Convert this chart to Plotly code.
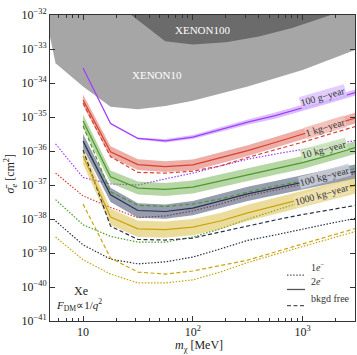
import numpy as np
import plotly.graph_objects as go

# ---------------- data ----------------
mass_mev = [5.62, 10, 17.8, 31.6, 56.2, 100, 178, 316, 562, 1000, 1778, 3162]
mass_2e = mass_mev[1:]

# log10 of cross section [cm^2]
purple_2e = [-33.56, -35.19, -35.63, -35.70, -35.59, -35.37, -35.15, -34.96, -34.74, -34.50, -34.26]
purple_1e = [-35.79, -36.78, -36.97, -37.00, -36.82, -36.65, -36.44, -36.24, -36.09, -35.96, -35.82, -35.68]
red_2e = [-34.50, -36.02, -36.40, -36.46, -36.41, -36.21, -35.99, -35.75, -35.50, -35.26, -35.01]
red_bf = [-34.59, -36.17, -36.63, -36.65, -36.59, -36.44, -36.19, -35.97, -35.74, -35.50, -35.26]
red_1e = [-36.65, -37.32, -37.66, -37.96, -37.91, -37.76, -37.56, -37.32, -37.15, -36.97, -36.81, -36.65]
green_2e = [-35.12, -36.76, -37.09, -37.13, -37.06, -36.88, -36.69, -36.51, -36.34, -36.12, -35.88]
green_bf = [-35.26, -37.20, -37.60, -37.63, -37.56, -37.41, -37.21, -37.03, -36.88, -36.68, -36.50]
green_1e = [-37.43, -38.17, -38.51, -38.68, -38.68, -38.53, -38.29, -38.00, -37.75, -37.49, -37.24, -36.97]
navy_2e = [-35.71, -37.29, -37.75, -37.78, -37.68, -37.47, -37.26, -37.09, -36.91, -36.75, -36.59]
navy_bf = [-35.97, -38.21, -38.60, -38.62, -38.56, -38.38, -38.21, -38.03, -37.87, -37.72, -37.59]
navy_1e = [-38.06, -38.76, -39.18, -39.32, -39.26, -39.12, -38.88, -38.63, -38.47, -38.29, -38.13, -37.97]
gold_2e = [-36.15, -37.94, -38.29, -38.31, -38.24, -38.06, -37.82, -37.62, -37.41, -37.21, -37.00]
gold_bf = [-37.56, -39.15, -39.56, -39.62, -39.53, -39.38, -39.21, -38.97, -38.74, -38.50, -38.26]
gold_1e = [-38.53, -39.20, -39.62, -39.88, -39.88, -39.79, -39.56, -39.28, -39.04, -38.81, -38.57, -38.35]

# band half-widths (decades) around the 2e- curves
purple_band = [0.01, 0.02, 0.03, 0.05, 0.06, 0.07, 0.08, 0.09, 0.09, 0.09, 0.09]
red_band = 0.16
green_band = 0.19
navy_band = 0.21
gold_band = 0.24

# existing limits (lower boundary of excluded regions)
xenon10_mass = [5.0, 5.62, 10, 17.8, 31.6, 56.2, 100, 316, 1000, 3162]
xenon10_log = [-32.64, -33.42, -34.10, -34.70, -34.77, -34.68, -34.52, -34.10, -33.62, -33.00]
xenon100_mass = [27, 56, 100, 200, 400, 800, 1600, 2100]
xenon100_log = [-31.98, -32.77, -32.87, -32.80, -32.63, -32.38, -32.06, -31.92]
sky_log = -31.0

exposures = ["100 g\u2212year", "1 kg\u2212year", "10 kg\u2212year", "100 kg\u2212year", "1000 kg\u2212year"]
legend_names = ["1<i>e</i><sup>\u2212</sup>", "2<i>e</i><sup>\u2212</sup>", "bkgd free"]

# ---------------- figure ----------------
SERIF = "Liberation Serif, Times New Roman, serif"
fig = go.Figure()

def p10(a):
    return list(10.0 ** np.asarray(a, dtype=float))

fig.add_trace(go.Scatter(
    x=xenon10_mass + [xenon10_mass[-1], xenon10_mass[0]],
    y=p10(xenon10_log + [sky_log, sky_log]),
    fill="toself", fillcolor="#a6a6a6", line=dict(width=0),
    mode="lines", showlegend=False, hoverinfo="skip"))
fig.add_trace(go.Scatter(
    x=xenon100_mass + [xenon100_mass[-1], xenon100_mass[0]],
    y=p10(xenon100_log + [sky_log, sky_log]),
    fill="toself", fillcolor="#6b6b6b", line=dict(width=0),
    mode="lines", showlegend=False, hoverinfo="skip"))

DOT = "1.5px,1.6px"
DASH = "4px,2.5px"
LW = 1.2

series = [
    ("#a23cff", "rgba(175,110,255,0.45)", purple_2e, purple_band, None, purple_1e),
    ("#d8402f", "rgba(215,75,60,0.45)", red_2e, red_band, red_bf, red_1e),
    ("#4d9a2a", "rgba(95,165,55,0.45)", green_2e, green_band, green_bf, green_1e),
    ("#27324c", "rgba(45,60,95,0.50)", navy_2e, navy_band, navy_bf, navy_1e),
    ("#c9a40e", "rgba(212,178,35,0.45)", gold_2e, gold_band, gold_bf, gold_1e),
]

for color, bandc, s2, bw, sbf, s1 in series:
    fig.add_trace(go.Scatter(x=mass_mev, y=p10(s1), mode="lines",
                             line=dict(color=color, width=LW, dash=DOT),
                             showlegend=False, hoverinfo="skip"))

for color, bandc, s2, bw, sbf, s1 in series:
    w = np.broadcast_to(np.asarray(bw, dtype=float), (len(s2),))
    up = np.asarray(s2) + w
    lo = np.asarray(s2) - w
    fig.add_trace(go.Scatter(x=mass_2e + mass_2e[::-1],
                             y=p10(list(up) + list(lo[::-1])),
                             fill="toself", fillcolor=bandc, line=dict(width=0),
                             mode="lines", showlegend=False, hoverinfo="skip"))

for color, bandc, s2, bw, sbf, s1 in series:
    if sbf is not None:
        fig.add_trace(go.Scatter(x=mass_2e, y=p10(sbf), mode="lines",
                                 line=dict(color=color, width=LW, dash=DASH),
                                 showlegend=False, hoverinfo="skip"))
    fig.add_trace(go.Scatter(x=mass_2e, y=p10(s2), mode="lines",
                             line=dict(color=color, width=LW),
                             showlegend=False, hoverinfo="skip"))

# line-style key (bottom right)
key_rows = [0.150, 0.103, 0.050]
for name, dash, ky in zip(legend_names, [DOT, "solid", DASH], key_rows):
    fig.add_shape(type="line", xref="paper", yref="paper", x0=0.777, x1=0.836,
                  y0=ky, y1=ky, line=dict(color="#555555", width=1.3, dash=dash))
    fig.add_annotation(xref="paper", yref="paper", x=0.850, y=ky, xanchor="left",
                       text=name, showarrow=False,
                       font=dict(family=SERIF, size=10, color="#333333"))

# exposure labels along the curves
label_pos = [(3.186, -34.41, -16, "rgba(222,200,255,0.9)"),
             (3.205, -35.32, -17, "rgba(242,196,190,0.9)"),
             (3.195, -35.97, -15, "rgba(200,226,185,0.9)"),
             (3.195, -36.74, -15, "rgba(200,204,215,0.9)"),
             (3.177, -37.29, -16, "rgba(238,226,178,0.9)")]
for txt, (lx, ly, ang, bg) in zip(exposures, label_pos):
    fig.add_annotation(x=lx, y=ly, text=txt, showarrow=False, textangle=ang,
                       font=dict(family=SERIF, size=10, color="#333333"),
                       bgcolor=bg, borderpad=0)

fig.add_annotation(x=2.084, y=-32.44, text="XENON100", showarrow=False,
                   font=dict(family=SERIF, size=11, color="white"))
fig.add_annotation(x=1.675, y=-33.76, text="XENON10", showarrow=False,
                   font=dict(family=SERIF, size=11, color="white"))
fig.add_annotation(x=0.977, y=-40.12, text="Xe", showarrow=False,
                   font=dict(family=SERIF, size=12, color="#222222"))
fig.add_annotation(x=0.959, y=-40.54,
                   text="<i>F</i><sub>DM</sub>\u221d1/<i>q</i><sup>2</sup>",
                   showarrow=False, font=dict(family=SERIF, size=11, color="#222222"))

# axis titles
fig.add_annotation(xref="paper", yref="paper", x=0.49, y=-0.048, yanchor="top",
                   text="<i>m</i><sub>\u03c7</sub> [MeV]", showarrow=False,
                   font=dict(family=SERIF, size=12, color="#222222"))
fig.add_annotation(xref="paper", yref="paper", x=-0.13, y=0.48, xanchor="center",
                   text="<i>\u03c3\u0304</i><sub><i>e</i></sub> [cm<sup>2</sup>]",
                   textangle=-90, showarrow=False,
                   font=dict(family=SERIF, size=12, color="#222222"))

ytickvals = [10.0 ** k for k in range(-41, -31)]
yticktext = ["10<sup>\u2212%d</sup>" % (-k) for k in range(-41, -31)]

fig.update_layout(
    width=357, height=355,
    margin=dict(l=50, r=2, t=15, b=34),
    paper_bgcolor="white", plot_bgcolor="white",
    font=dict(family=SERIF, size=12, color="#222222"),
    showlegend=False,
    xaxis=dict(type="log", range=[np.log10(5.0), np.log10(3000.0)], automargin=False,
               showgrid=False, zeroline=False, showline=True, linecolor="#333333",
               linewidth=1, mirror="allticks", ticks="inside", ticklen=5,
               tickcolor="#333333",
               tickvals=[10, 100, 1000], ticktext=["10", "10<sup>2</sup>", "10<sup>3</sup>"],
               minor=dict(ticks="inside", ticklen=3, tickcolor="#333333",
                          tickvals=[5, 6, 7, 8, 9, 20, 30, 40, 50, 60, 70, 80, 90,
                                    200, 300, 400, 500, 600, 700, 800, 900, 2000, 3000]),
               tickfont=dict(family=SERIF, size=12)),
    yaxis=dict(type="log", range=[-41, -32], automargin=False,
               showgrid=False, zeroline=False, showline=True, linecolor="#333333",
               linewidth=1, mirror="allticks", ticks="inside", ticklen=5,
               tickcolor="#333333",
               tickvals=ytickvals, ticktext=yticktext,
               tickfont=dict(family=SERIF, size=12)),
)

fig.write_html("out.html", config={"displayModeBar": False},
               post_script="document.body.style.margin='0px';")
